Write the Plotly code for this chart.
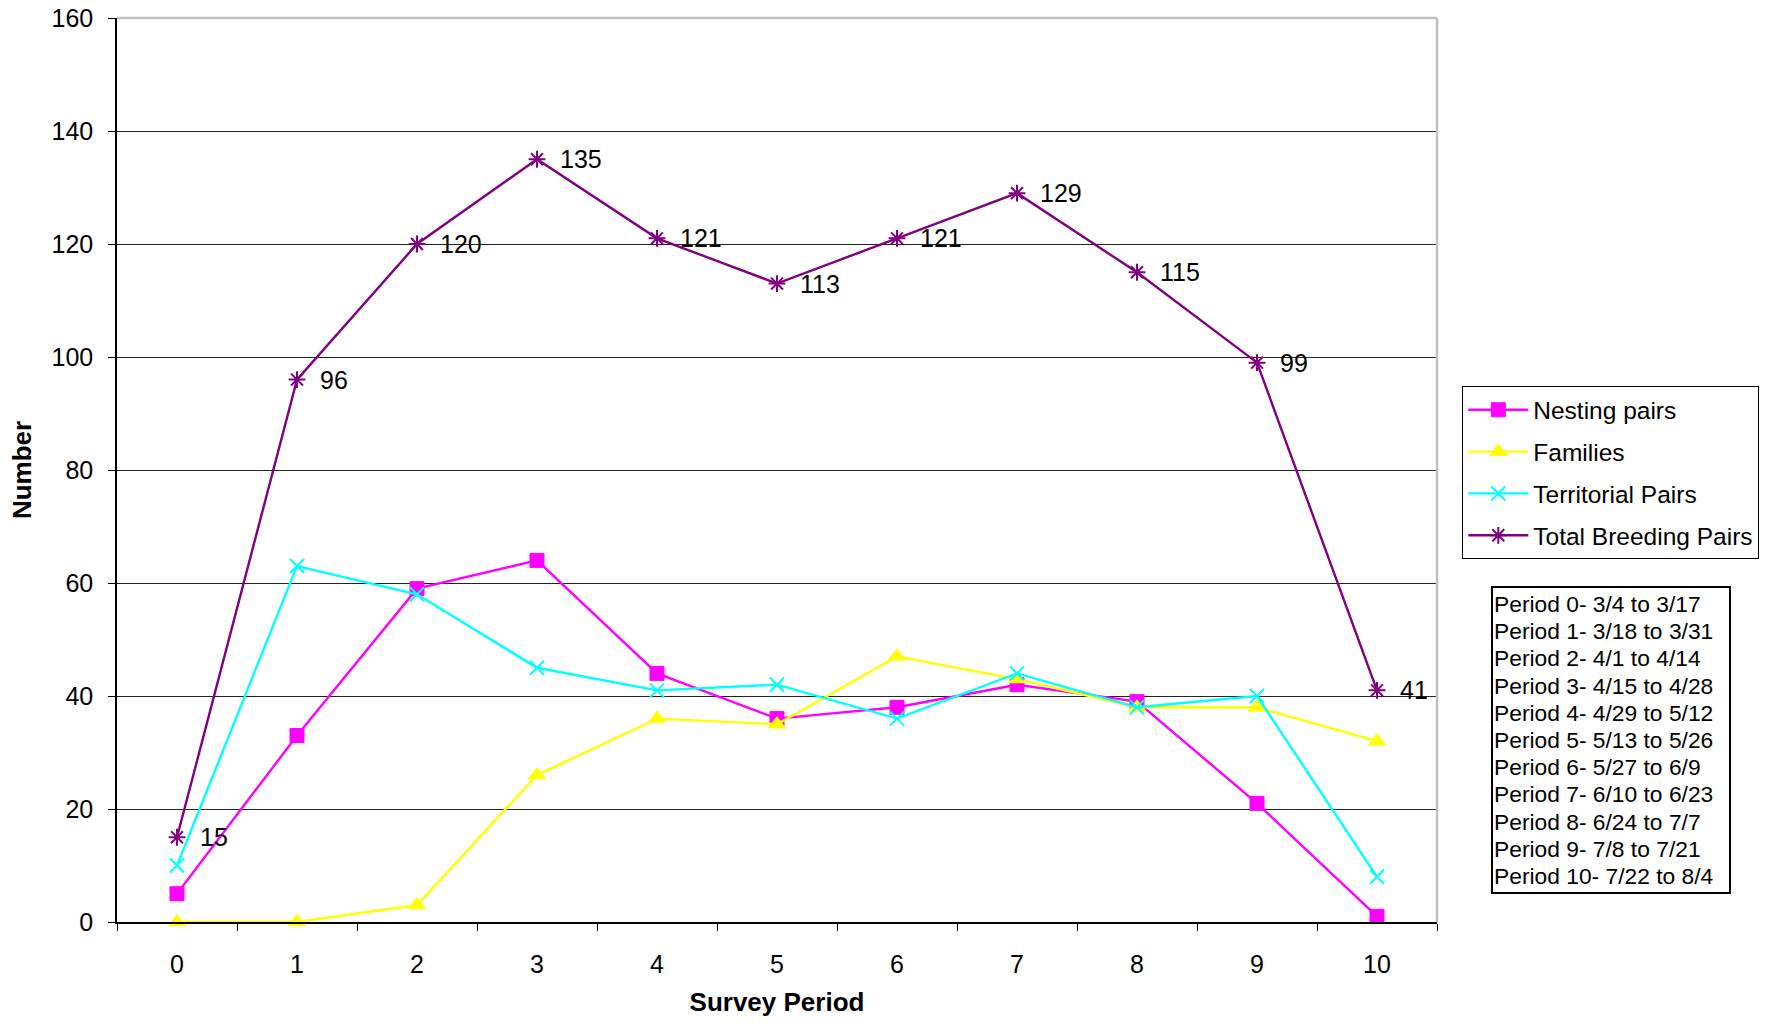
import plotly.graph_objects as go

# Survey data
periods = [str(i) for i in range(11)]
nesting_pairs = [5, 33, 59, 64, 44, 36, 38, 42, 39, 21, 1]
families = [0, 0, 3, 26, 36, 35, 47, 43, 38, 38, 32]
territorial_pairs = [10, 63, 58, 45, 41, 42, 36, 44, 38, 40, 8]
total_breeding_pairs = [15, 96, 120, 135, 121, 113, 121, 129, 115, 99, 41]
period_ranges = ["3/4 to 3/17", "3/18 to 3/31", "4/1 to 4/14", "4/15 to 4/28",
                 "4/29 to 5/12", "5/13 to 5/26", "5/27 to 6/9", "6/10 to 6/23",
                 "6/24 to 7/7", "7/8 to 7/21", "7/22 to 8/4"]
y_ticks = [0, 20, 40, 60, 80, 100, 120, 140, 160]

FONT = "Liberation Sans, Arial, sans-serif"
W, H = 1771, 1023
L, R, T, B = 117, 334, 18, 101
plot_w = W - L - R
plot_h = H - T - B


def px_x(px):
    return (px - L) / plot_w


def px_y(py):
    return (H - B - py) / plot_h


fig = go.Figure()

series = [
    ("Nesting pairs", nesting_pairs, "#FF00FF",
     dict(symbol="square", size=14, color="#FF00FF", line=dict(color="#FF00FF", width=1))),
    ("Families", families, "#FFFF00",
     dict(symbol="triangle-up", size=15, color="#FFFF00", line=dict(color="#FFFF00", width=1))),
    ("Territorial Pairs", territorial_pairs, "#00FFFF",
     dict(symbol="x-thin", size=14, color="#00FFFF", line=dict(color="#00FFFF", width=2))),
    ("Total Breeding Pairs", total_breeding_pairs, "#800080",
     dict(symbol="asterisk", size=14, color="#800080", line=dict(color="#800080", width=2))),
]

for i, (name, vals, col, mk) in enumerate(series):
    fig.add_trace(go.Scatter(
        x=periods, y=vals, name=name, mode="lines+markers",
        line=dict(color=col, width=2.4), marker=mk,
        legendgroup=f"g{i}", cliponaxis=False,
    ))

# value labels for the total series
for p, v in zip(periods, total_breeding_pairs):
    fig.add_annotation(x=p, y=v, xref="x", yref="y", text=str(v), showarrow=False,
                       xanchor="left", yanchor="middle", xshift=21,
                       font=dict(family=FONT, size=25, color="black"))

# survey period key
key_left, key_right, key_top, key_bottom = 1492, 1730, 587, 893
fig.add_shape(type="rect", xref="paper", yref="paper",
              x0=px_x(key_left), x1=px_x(key_right), y0=px_y(key_bottom), y1=px_y(key_top),
              line=dict(color="black", width=2), fillcolor="white", layer="above")
for i, rng in enumerate(period_ranges):
    fig.add_annotation(x=px_x(1492), y=px_y(604 + i * 27.2), xref="paper", yref="paper",
                       text=f"Period {i}- {rng}", showarrow=False,
                       xanchor="left", yanchor="middle",
                       font=dict(family=FONT, size=22.8, color="black"))

# light frame on top and right of the plot area
fig.add_shape(type="line", xref="paper", yref="paper", x0=0, x1=1, y0=1, y1=1,
              line=dict(color="#c0c0c0", width=2.5))
fig.add_shape(type="line", xref="paper", yref="paper", x0=1, x1=1, y0=0, y1=1,
              line=dict(color="#c0c0c0", width=2.5))

fig.update_layout(
    width=W, height=H,
    margin=dict(l=L, r=R, t=T, b=B, autoexpand=False),
    paper_bgcolor="white", plot_bgcolor="white",
    font=dict(family=FONT, size=25, color="black"),
    showlegend=True,
    legend=dict(x=px_x(1462), y=px_y(386), xanchor="left", yanchor="top",
                bordercolor="black", borderwidth=1.3, bgcolor="white",
                font=dict(family=FONT, size=24.5, color="black"),
                tracegroupgap=7, itemwidth=60),
    xaxis=dict(
        type="category", range=[-0.5, 10.5], tickson="boundaries",
        ticks="outside", ticklen=7, tickcolor="black", tickwidth=1.3,
        showline=True, linecolor="black", linewidth=1.5,
        showgrid=False, zeroline=False, ticklabelstandoff=19,
        tickfont=dict(family=FONT, size=25, color="black"),
        title=dict(text="<b>Survey Period</b>", standoff=16,
                   font=dict(family=FONT, size=26, color="black")),
    ),
    yaxis=dict(
        range=[0, 160], tickvals=y_ticks,
        ticks="outside", ticklen=7, tickcolor="black", tickwidth=1.3,
        showline=True, linecolor="black", linewidth=1.5,
        showgrid=True, gridcolor="#222222", gridwidth=1, zeroline=False,
        ticklabelstandoff=10,
        tickfont=dict(family=FONT, size=25, color="black"),
        title=dict(text="<b>Number</b>", standoff=12,
                   font=dict(family=FONT, size=26, color="black")),
    ),
)

fig.write_html("out.html")
